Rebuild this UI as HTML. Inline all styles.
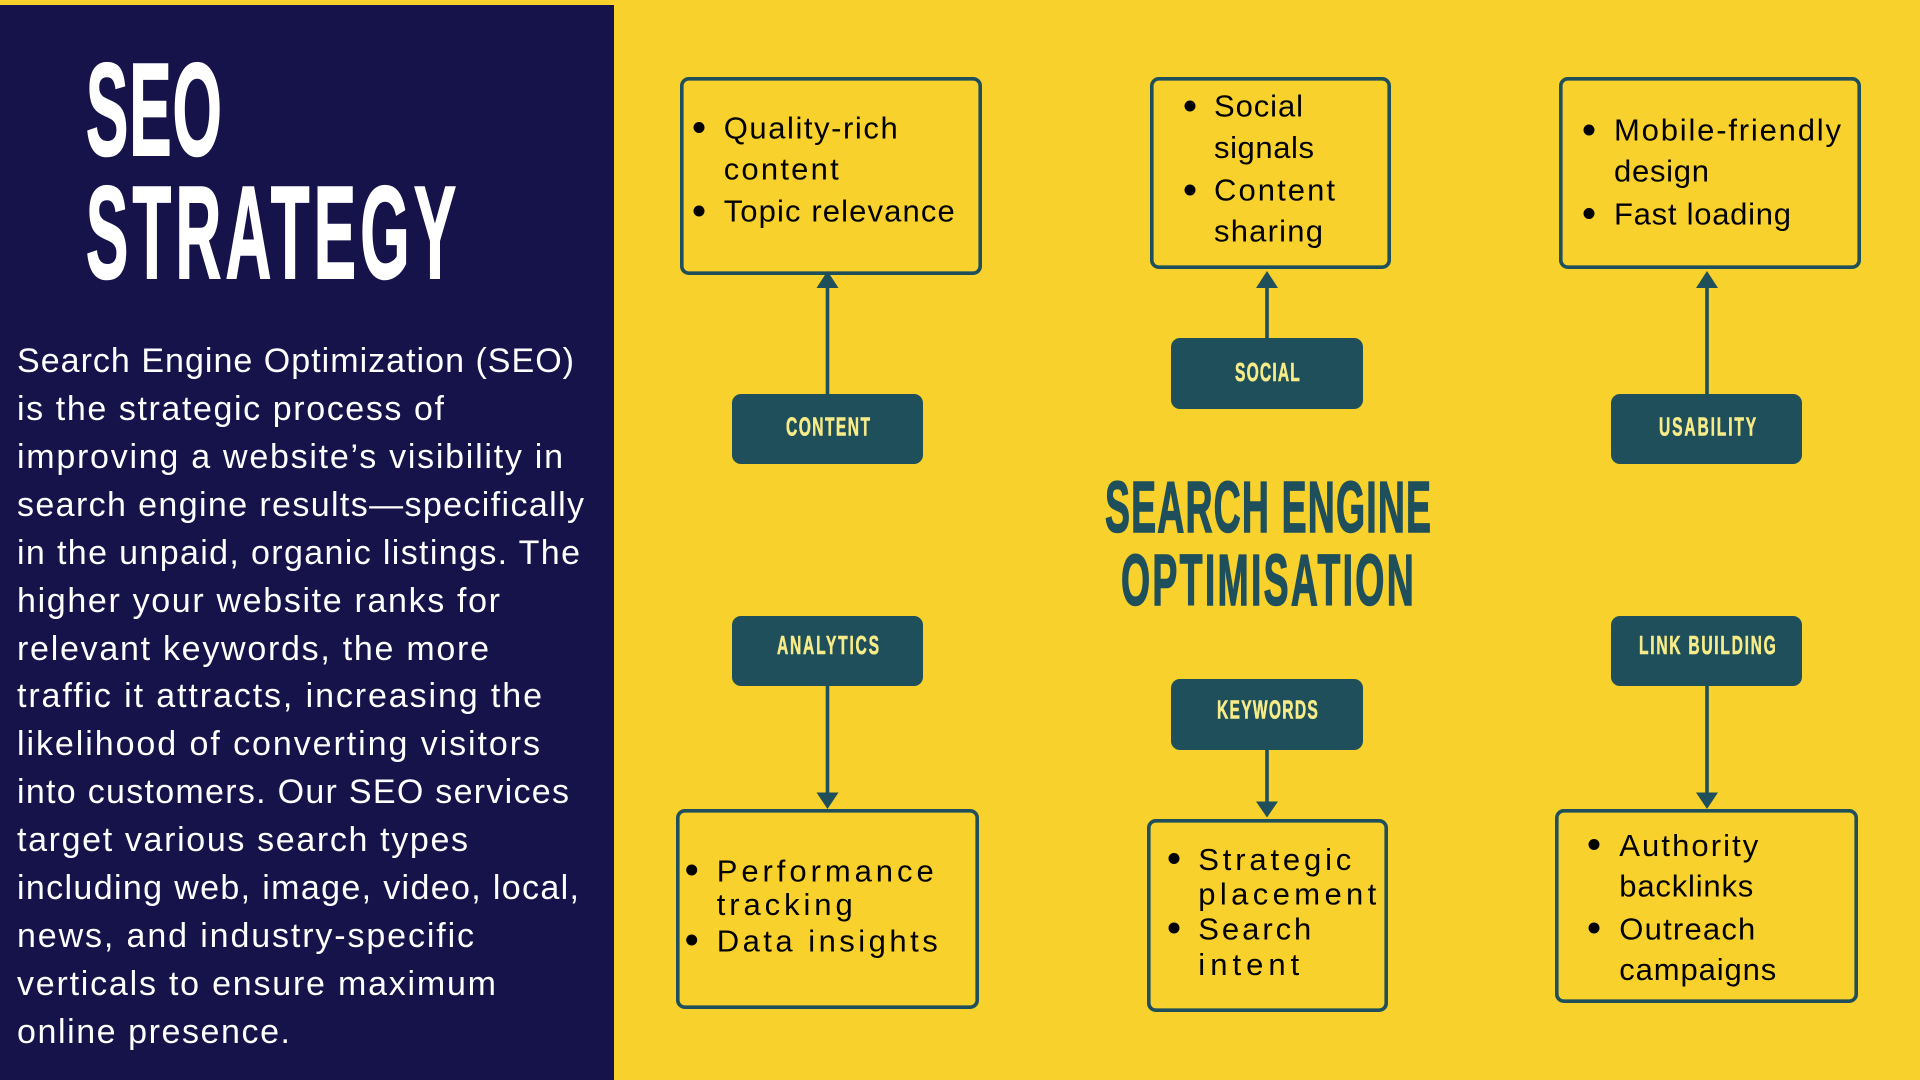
<!DOCTYPE html>
<html>
<head>
<meta charset="utf-8">
<style>
html,body{margin:0;padding:0;width:1920px;height:1080px;overflow:hidden;background:#F9D12D;}
svg{display:block;}
.p{font-family:"Liberation Sans",Arial,sans-serif;font-size:34px;fill:#ffffff;}
.b{font-family:"Liberation Sans",Arial,sans-serif;font-size:31px;fill:#000000;}
.lb{font-family:"Liberation Sans",Arial,sans-serif;font-size:26px;font-weight:bold;fill:#F7EC88;stroke:#F7EC88;stroke-width:0.6;}
.tt{font-family:"Liberation Sans",Arial,sans-serif;font-weight:bold;}
</style>
</head>
<body>
<svg width="1920" height="1080" viewBox="0 0 1920 1080" xmlns="http://www.w3.org/2000/svg">
  <rect x="0" y="0" width="1920" height="1080" fill="#F9D12D"/>
  <rect x="0" y="5" width="614" height="1075" fill="#16124A"/>

  <!-- Left title -->
  <text class="tt" transform="translate(86,155) scale(0.48,1)" x="0" y="0" font-size="132" fill="#fff" stroke="#fff" stroke-width="2" textLength="283" lengthAdjust="spacing">SEO</text>
  <text class="tt" transform="translate(86,278) scale(0.48,1)" x="0" y="0" font-size="132" fill="#fff" stroke="#fff" stroke-width="2" textLength="771" lengthAdjust="spacing">STRATEGY</text>

  <!-- Paragraph -->
  <text class="p" x="17" y="372" textLength="557" lengthAdjust="spacing">Search Engine Optimization (SEO)</text>
  <text class="p" x="17" y="420" textLength="427" lengthAdjust="spacing">is the strategic process of</text>
  <text class="p" x="17" y="468" textLength="546" lengthAdjust="spacing">improving a website’s visibility in</text>
  <text class="p" x="17" y="516" textLength="567" lengthAdjust="spacing">search engine results—specifically</text>
  <text class="p" x="17" y="564" textLength="563" lengthAdjust="spacing">in the unpaid, organic listings. The</text>
  <text class="p" x="17" y="612" textLength="483" lengthAdjust="spacing">higher your website ranks for</text>
  <text class="p" x="17" y="660" textLength="472" lengthAdjust="spacing">relevant keywords, the more</text>
  <text class="p" x="17" y="707" textLength="525" lengthAdjust="spacing">traffic it attracts, increasing the</text>
  <text class="p" x="17" y="755" textLength="523" lengthAdjust="spacing">likelihood of converting visitors</text>
  <text class="p" x="17" y="803" textLength="552" lengthAdjust="spacing">into customers. Our SEO services</text>
  <text class="p" x="17" y="851" textLength="451" lengthAdjust="spacing">target various search types</text>
  <text class="p" x="17" y="899" textLength="562" lengthAdjust="spacing">including web, image, video, local,</text>
  <text class="p" x="17" y="947" textLength="457" lengthAdjust="spacing">news, and industry-specific</text>
  <text class="p" x="17" y="995" textLength="479" lengthAdjust="spacing">verticals to ensure maximum</text>
  <text class="p" x="17" y="1043" textLength="273" lengthAdjust="spacing">online presence.</text>

  <!-- Center title -->
  <text class="tt" transform="translate(1105,532) scale(0.52,1)" x="0" y="0" font-size="72" fill="#1E4F5B" stroke="#1E4F5B" stroke-width="1.5" textLength="627" lengthAdjust="spacing">SEARCH ENGINE</text>
  <text class="tt" transform="translate(1121,605) scale(0.52,1)" x="0" y="0" font-size="72" fill="#1E4F5B" stroke="#1E4F5B" stroke-width="1.5" textLength="563" lengthAdjust="spacing">OPTIMISATION</text>

  <!-- Outlined boxes -->
  <g fill="none" stroke="#1E4F5B" stroke-width="3.6">
    <rect x="681.8" y="78.8" width="298.4" height="194.4" rx="7"/>
    <rect x="1151.8" y="78.8" width="237.4" height="188.4" rx="7"/>
    <rect x="1560.8" y="78.8" width="298.4" height="188.4" rx="7"/>
    <rect x="677.8" y="810.8" width="299.4" height="196.4" rx="7"/>
    <rect x="1148.8" y="820.8" width="237.4" height="189.4" rx="7"/>
    <rect x="1556.8" y="810.8" width="299.4" height="190.4" rx="7"/>
  </g>

  <!-- Connectors -->
  <g stroke="#1E4F5B" stroke-width="3.6" fill="none">
    <line x1="827.5" y1="286" x2="827.5" y2="395"/>
    <line x1="1267" y1="286" x2="1267" y2="339"/>
    <line x1="1707" y1="286" x2="1707" y2="395"/>
    <line x1="827.5" y1="685" x2="827.5" y2="794"/>
    <line x1="1267" y1="749" x2="1267" y2="803"/>
    <line x1="1707" y1="685" x2="1707" y2="794"/>
  </g>
  <g fill="#1E4F5B">
    <polygon points="827.5,271 838.5,288 816.5,288"/>
    <polygon points="1267,271 1278,288 1256,288"/>
    <polygon points="1707,271 1718,288 1696,288"/>
    <polygon points="827.5,809 838.5,792.5 816.5,792.5"/>
    <polygon points="1267,817.5 1278,801.5 1256,801.5"/>
    <polygon points="1707,809 1718,792.5 1696,792.5"/>
  </g>

  <!-- Label boxes -->
  <g fill="#1E4F5B">
    <rect x="732" y="394" width="191" height="70" rx="9"/>
    <rect x="1171" y="338" width="192" height="71" rx="9"/>
    <rect x="1611" y="394" width="191" height="70" rx="9"/>
    <rect x="732" y="616" width="191" height="70" rx="9"/>
    <rect x="1171" y="679" width="192" height="71" rx="9"/>
    <rect x="1611" y="616" width="191" height="70" rx="9"/>
  </g>
  <text class="lb" transform="translate(786,435.5) scale(0.6,1)" x="0" y="0" textLength="140" lengthAdjust="spacing">CONTENT</text>
  <text class="lb" transform="translate(1235,381) scale(0.6,1)" x="0" y="0" textLength="108" lengthAdjust="spacing">SOCIAL</text>
  <text class="lb" transform="translate(1659,435.5) scale(0.6,1)" x="0" y="0" textLength="162" lengthAdjust="spacing">USABILITY</text>
  <text class="lb" transform="translate(777,654) scale(0.6,1)" x="0" y="0" textLength="170" lengthAdjust="spacing">ANALYTICS</text>
  <text class="lb" transform="translate(1217,718.5) scale(0.6,1)" x="0" y="0" textLength="168" lengthAdjust="spacing">KEYWORDS</text>
  <text class="lb" transform="translate(1639,654) scale(0.6,1)" x="0" y="0" textLength="228" lengthAdjust="spacing">LINK BUILDING</text>

  <!-- Bullets -->
  <g fill="#000">
    <circle cx="699" cy="127.5" r="5.5"/>
    <circle cx="699" cy="211" r="5.5"/>
    <circle cx="1190" cy="106" r="5.5"/>
    <circle cx="1190" cy="190" r="5.5"/>
    <circle cx="1589" cy="130" r="5.5"/>
    <circle cx="1589" cy="213.5" r="5.5"/>
    <circle cx="691.7" cy="870" r="5.5"/>
    <circle cx="691.7" cy="940" r="5.5"/>
    <circle cx="1174" cy="858.5" r="5.5"/>
    <circle cx="1174" cy="928" r="5.5"/>
    <circle cx="1594" cy="844.5" r="5.5"/>
    <circle cx="1594" cy="928" r="5.5"/>
  </g>

  <!-- Box texts -->
  <text class="b" x="723.7" y="138.3" textLength="174" lengthAdjust="spacing">Quality-rich</text>
  <text class="b" x="723.7" y="179.5" textLength="115" lengthAdjust="spacing">content</text>
  <text class="b" x="723.7" y="221.7" textLength="231" lengthAdjust="spacing">Topic relevance</text>

  <text class="b" x="1214" y="116.7" textLength="89" lengthAdjust="spacing">Social</text>
  <text class="b" x="1214" y="158" textLength="100" lengthAdjust="spacing">signals</text>
  <text class="b" x="1214" y="200.7" textLength="121" lengthAdjust="spacing">Content</text>
  <text class="b" x="1214" y="241.7" textLength="109" lengthAdjust="spacing">sharing</text>

  <text class="b" x="1614" y="140.7" textLength="227" lengthAdjust="spacing">Mobile-friendly</text>
  <text class="b" x="1614" y="181.7" textLength="95" lengthAdjust="spacing">design</text>
  <text class="b" x="1614" y="224.3" textLength="177" lengthAdjust="spacing">Fast loading</text>

  <text class="b" x="716.7" y="881.7" textLength="217" lengthAdjust="spacing">Performance</text>
  <text class="b" x="716.7" y="915" textLength="136" lengthAdjust="spacing">tracking</text>
  <text class="b" x="716.7" y="951.7" textLength="221" lengthAdjust="spacing">Data insights</text>

  <text class="b" x="1198.3" y="870" textLength="153" lengthAdjust="spacing">Strategic</text>
  <text class="b" x="1198.3" y="904.5" textLength="178" lengthAdjust="spacing">placement</text>
  <text class="b" x="1198.3" y="939.3" textLength="113" lengthAdjust="spacing">Search</text>
  <text class="b" x="1198.3" y="975" textLength="101" lengthAdjust="spacing">intent</text>

  <text class="b" x="1619.3" y="856" textLength="139" lengthAdjust="spacing">Authority</text>
  <text class="b" x="1619.3" y="896.7" textLength="134" lengthAdjust="spacing">backlinks</text>
  <text class="b" x="1619.3" y="939.3" textLength="136" lengthAdjust="spacing">Outreach</text>
  <text class="b" x="1619.3" y="980" textLength="157" lengthAdjust="spacing">campaigns</text>
</svg>
</body>
</html>
